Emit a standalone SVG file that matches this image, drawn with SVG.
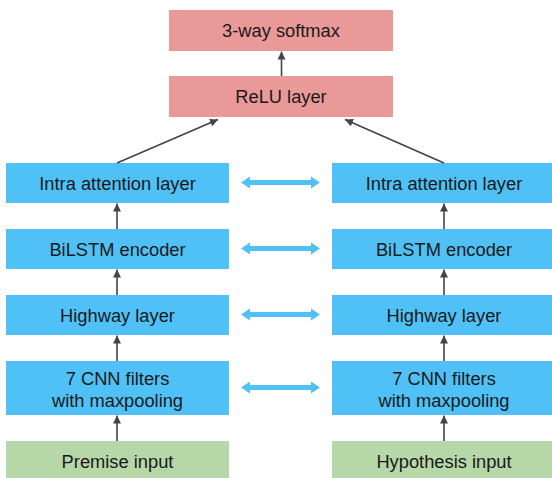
<svg xmlns="http://www.w3.org/2000/svg" width="552" height="478" viewBox="0 0 552 478">
  <style>
    .head { fill: #ea9999; }
    .layer { fill: #4fc1f6; }
    .input { fill: #b6d7a8; }
    text { font-family: "Liberation Sans", Arial, sans-serif; font-size: 18.3px; fill: #1a1a1a; text-anchor: middle; }
    .flow { stroke: #444; stroke-width: 1.6; fill: none; marker-end: url(#tip); }
    .link { fill: #4fc1f6; }
  </style>
  <defs>
    <marker id="tip" viewBox="0 0 10 10" refX="10" refY="5" markerWidth="5" markerHeight="5" markerUnits="strokeWidth" orient="auto">
      <path d="M0,0 L10,5 L0,10 z" fill="#444"/>
    </marker>
    <!-- two-headed link between matching layers -->
    <path id="dbl" d="M0,0 L9,-6 L9,-2.6 L70,-2.6 L70,-6 L79,0 L70,6 L70,2.6 L9,2.6 L9,6 z"/>
  </defs>

  <rect width="552" height="478" fill="#ffffff"/>

  <g id="softmax">
    <rect class="head" x="169" y="10" width="224" height="41"/>
    <text x="281" y="37.3">3-way softmax</text>
  </g>
  <g id="relu">
    <rect class="head" x="169" y="76" width="224" height="41"/>
    <text x="281" y="103.3">ReLU layer</text>
  </g>

  <g id="premise-attention">
    <rect class="layer" x="6" y="163" width="223" height="40"/>
    <text x="117.5" y="189.5">Intra attention layer</text>
  </g>
  <g id="premise-bilstm">
    <rect class="layer" x="6" y="229" width="223" height="40"/>
    <text x="117.5" y="255.5">BiLSTM encoder</text>
  </g>
  <g id="premise-highway">
    <rect class="layer" x="6" y="295" width="223" height="40"/>
    <text x="117.5" y="321.5">Highway layer</text>
  </g>
  <g id="premise-cnn">
    <rect class="layer" x="6" y="361" width="223" height="54"/>
    <text x="117.5" y="384.5">7 CNN filters</text>
    <text x="117.5" y="406.8">with maxpooling</text>
  </g>
  <g id="premise-input">
    <rect class="input" x="6" y="441" width="223" height="41"/>
    <text x="117.5" y="468.3">Premise input</text>
  </g>

  <g id="hypothesis-attention">
    <rect class="layer" x="332" y="163" width="224" height="40"/>
    <text x="444" y="189.5">Intra attention layer</text>
  </g>
  <g id="hypothesis-bilstm">
    <rect class="layer" x="332" y="229" width="224" height="40"/>
    <text x="444" y="255.5">BiLSTM encoder</text>
  </g>
  <g id="hypothesis-highway">
    <rect class="layer" x="332" y="295" width="224" height="40"/>
    <text x="444" y="321.5">Highway layer</text>
  </g>
  <g id="hypothesis-cnn">
    <rect class="layer" x="332" y="361" width="224" height="54"/>
    <text x="444" y="384.5">7 CNN filters</text>
    <text x="444" y="406.8">with maxpooling</text>
  </g>
  <g id="hypothesis-input">
    <rect class="input" x="332" y="441" width="224" height="41"/>
    <text x="444" y="468.3">Hypothesis input</text>
  </g>

  <g id="connectors">
    <line class="flow" x1="281.5" y1="76" x2="281.5" y2="51.5"/>
    <line class="flow" x1="117" y1="163" x2="218" y2="119.5"/>
    <line class="flow" x1="444" y1="163" x2="345" y2="119.5"/>

    <line class="flow" x1="117" y1="229" x2="117" y2="203.5"/>
    <line class="flow" x1="117" y1="295" x2="117" y2="269.5"/>
    <line class="flow" x1="117" y1="361" x2="117" y2="335.5"/>
    <line class="flow" x1="117" y1="441" x2="117" y2="415.5"/>

    <line class="flow" x1="444" y1="229" x2="444" y2="203.5"/>
    <line class="flow" x1="444" y1="295" x2="444" y2="269.5"/>
    <line class="flow" x1="444" y1="361" x2="444" y2="335.5"/>
    <line class="flow" x1="444" y1="441" x2="444" y2="415.5"/>

    <use href="#dbl" class="link" x="241" y="182.5"/>
    <use href="#dbl" class="link" x="241" y="248.5"/>
    <use href="#dbl" class="link" x="241" y="314.5"/>
    <use href="#dbl" class="link" x="241" y="387.5"/>
  </g>
</svg>
